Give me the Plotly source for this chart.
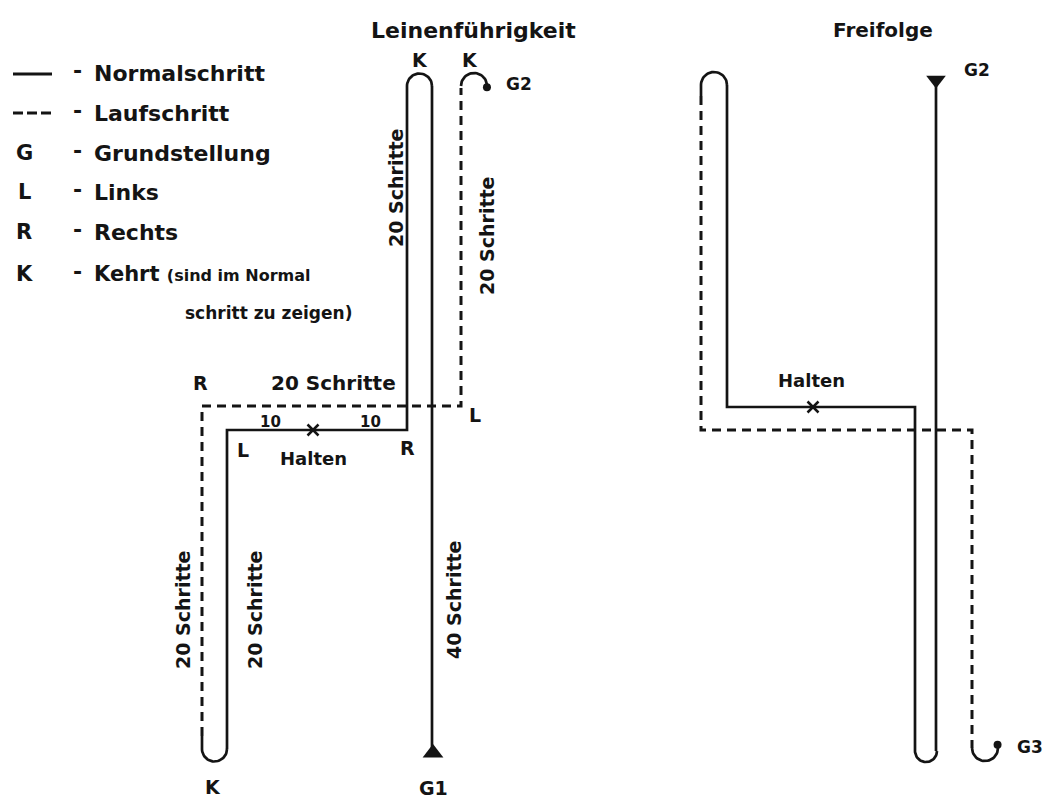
import numpy as np
import plotly.graph_objects as go

# ---------------- data (course routes, in diagram units) ----------------
# Leinenführigkeit: Normalschritt route (G1 -> up -> Kehrt -> down -> R -> L -> down -> Kehrt)
leine_normal_x = [432, 432]
leine_normal_y = [755, 86]
leine_turn1 = (419.5, 86, 12.5)          # Kehrt at top (centre x, centre y, radius)
leine_normal2_x = [407, 407, 227, 227]
leine_normal2_y = [86, 430, 430, 749]
leine_turn2 = (214.5, 749, 12.5)          # Kehrt at bottom
leine_normal3_x = [202, 202]
leine_normal3_y = [749, 736]
# Laufschritt route
leine_lauf_x = [202, 202, 461, 461]
leine_lauf_y = [736, 406, 406, 88]
leine_end_turn = (474, 86, 13)            # final Kehrt to G2
leine_halt = (313, 430)

# Freifolge
frei_normal_x = [936, 936]
frei_normal_y = [84, 751]
frei_turn1 = (926, 751, 11)
frei_normal2_x = [915, 915, 727, 727]
frei_normal2_y = [751, 407, 407, 85]
frei_turn2 = (714, 85, 13)
frei_normal3_x = [701, 701]
frei_normal3_y = [85, 96]
frei_lauf_x = [701, 701, 972, 972]
frei_lauf_y = [96, 430, 430, 748]
frei_end_turn = (985, 748, 13)
frei_halt = (813, 407)

step_labels = ["20 Schritte", "20 Schritte", "20 Schritte", "20 Schritte",
               "20 Schritte", "40 Schritte"]
legend_keys = ["Normalschritt", "Laufschritt", "Grundstellung", "Links", "Rechts"]
legend_syms = ["", "", "G", "L", "R"]

INK = "#141414"
FONT = "DejaVu Sans"


def arc(c, a0, a1, n=30):
    cx, cy, r = c
    a = np.radians(np.linspace(a0, a1, n))
    return cx + r * np.cos(a), cy - r * np.sin(a)


fig = go.Figure()


def line(x, y, dash=None, w=2.7):
    fig.add_trace(go.Scatter(x=list(x), y=list(y), mode="lines",
                             line=dict(color=INK, width=w, dash=dash),
                             hoverinfo="skip", showlegend=False))


DASH = "9px,6px"

# --- Leinenführigkeit ---
line(leine_normal_x, leine_normal_y)
ax, ay = arc(leine_turn1, 0, 180)
line(ax, ay)
line(leine_normal2_x, leine_normal2_y)
ax, ay = arc(leine_turn2, 0, -180)
line(ax, ay)
line(leine_normal3_x, leine_normal3_y)
line(leine_lauf_x, leine_lauf_y, DASH, 3)
ex, ey = arc(leine_end_turn, 180, -5)
line(ex, ey)
fig.add_trace(go.Scatter(x=[ex[-1]], y=[ey[-1]], mode="markers",
                         marker=dict(color=INK, size=8), hoverinfo="skip", showlegend=False))
fig.add_trace(go.Scatter(x=[leine_normal_x[0] + 1], y=[leine_normal_y[0] - 2], mode="markers",
                         marker=dict(color=INK, size=18, symbol="triangle-up"),
                         hoverinfo="skip", showlegend=False))
fig.add_trace(go.Scatter(x=[leine_halt[0]], y=[leine_halt[1]], mode="markers",
                         marker=dict(color=INK, size=11, symbol="x-thin",
                                     line=dict(color=INK, width=2.5)),
                         hoverinfo="skip", showlegend=False))

# --- Freifolge ---
line(frei_normal_x, frei_normal_y)
ax, ay = arc(frei_turn1, 0, -180)
line(ax, ay)
line(frei_normal2_x, frei_normal2_y)
ax, ay = arc(frei_turn2, 0, 180)
line(ax, ay)
line(frei_normal3_x, frei_normal3_y)
line(frei_lauf_x, frei_lauf_y, DASH, 3)
ex, ey = arc(frei_end_turn, 180, 375)
line(ex, ey)
fig.add_trace(go.Scatter(x=[ex[-1]], y=[ey[-1]], mode="markers",
                         marker=dict(color=INK, size=8), hoverinfo="skip", showlegend=False))
fig.add_trace(go.Scatter(x=[frei_normal_x[0]], y=[frei_normal_y[0] - 4], mode="markers",
                         marker=dict(color=INK, size=17, symbol="triangle-down"),
                         hoverinfo="skip", showlegend=False))
fig.add_trace(go.Scatter(x=[frei_halt[0]], y=[frei_halt[1]], mode="markers",
                         marker=dict(color=INK, size=11, symbol="x-thin",
                                     line=dict(color=INK, width=2.5)),
                         hoverinfo="skip", showlegend=False))

# --- legend lines ---
line([13, 52], [74, 74], w=3)
line([13, 52], [113, 113], "10px,4px", 3)


def txt(x, y, s, size=20, angle=0, xa="center"):
    fig.add_annotation(x=x, y=y, text=s, showarrow=False, textangle=angle,
                       xanchor=xa, yanchor="middle",
                       font=dict(family=FONT, size=size, color=INK, weight="bold"))


# legend text
legend_y = [73, 113, 153, 192, 232]
for s, k, yy in zip(legend_syms, legend_keys, legend_y):
    if s:
        txt(24, yy, s, 21)
    txt(77, yy - 3, "-", 22)
    txt(92, yy, k, 22, xa="left")
txt(24, 274, "K", 21)
txt(77, 271, "-", 22)
txt(92, 274, "Kehrt <span style='font-size:16px'>(sind im Normal</span>", 21, xa="left")
txt(183, 313, "schritt zu zeigen)", 17, xa="left")

# titles
txt(473, 30, "Leinenführigkeit", 22)
txt(883, 30, "Freifolge", 20)

# Leinenführigkeit labels
txt(420, 60, "K", 19)
txt(470, 60, "K", 19)
txt(519, 84, "G2", 17)
txt(396, 188, step_labels[0], 19, -90)
txt(487, 236, step_labels[1], 19, -90)
txt(200, 383, "R", 19)
txt(333, 383, "20 Schritte", 20)
txt(270, 422, "10", 15)
txt(370, 422, "10", 15)
txt(243, 450, "L", 19)
txt(313, 458, "Halten", 18)
txt(407, 448, "R", 19)
txt(475, 415, "L", 19)
txt(183, 610, step_labels[2], 19, -90)
txt(255, 610, step_labels[3], 19, -90)
txt(454, 600, step_labels[5], 19, -90)
txt(213, 787, "K", 19)
txt(433, 788, "G1", 19)

# Freifolge labels
txt(977, 70, "G2", 17)
txt(811, 380, "Halten", 18)
txt(1030, 747, "G3", 17)

fig.update_layout(
    width=1047, height=798,
    margin=dict(l=0, r=0, t=0, b=0),
    paper_bgcolor="white", plot_bgcolor="white",
    xaxis=dict(range=[0, 1047], visible=False, fixedrange=True),
    yaxis=dict(range=[798, 0], visible=False, fixedrange=True),
    showlegend=False,
)

fig.write_html("out.html", config={"displayModeBar": False},
               post_script="document.body.style.margin='0';")
